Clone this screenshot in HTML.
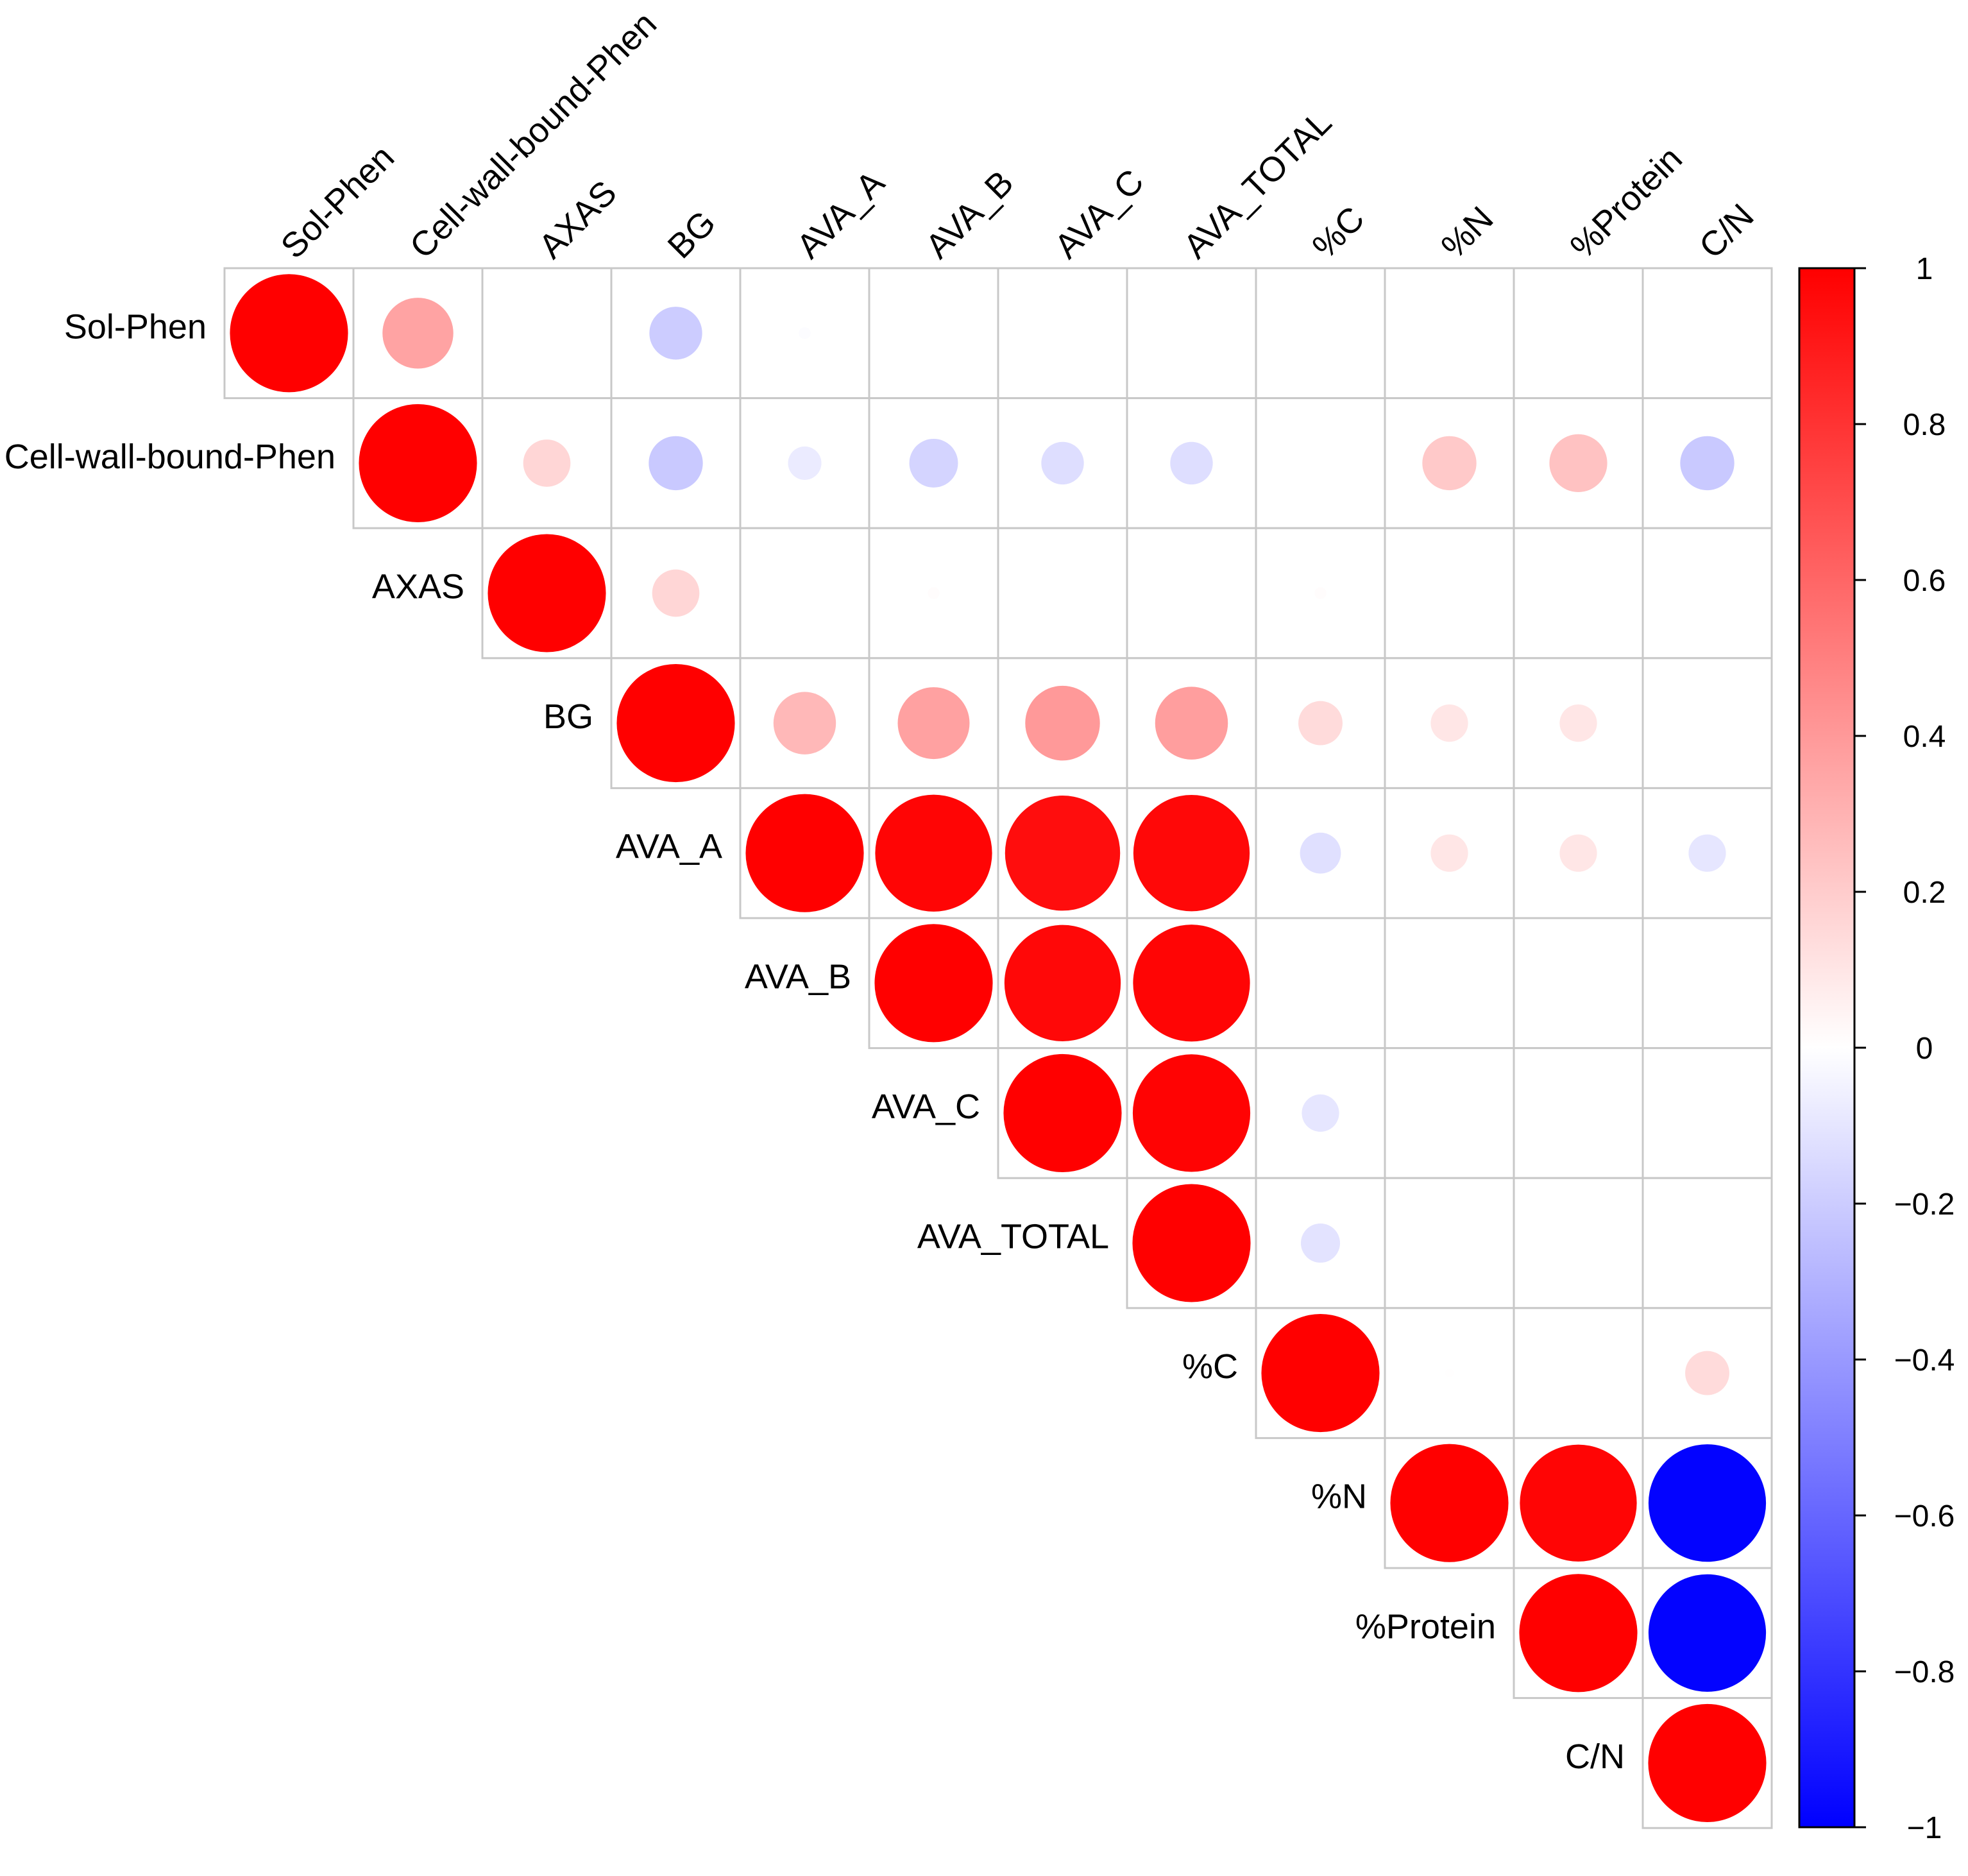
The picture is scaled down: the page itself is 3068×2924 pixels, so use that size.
<!DOCTYPE html>
<html><head><meta charset="utf-8"><style>
html,body{margin:0;padding:0;background:#fff;}
svg{display:block;font-family:"Liberation Sans",Arial,sans-serif;}
</style></head><body>
<svg id="chart" width="3068" height="2924" viewBox="0 0 3068 2924" xmlns="http://www.w3.org/2000/svg">
<defs><linearGradient id="cbgrad" x1="0" y1="0" x2="0" y2="1">
<stop offset="0" stop-color="#ff0000"/><stop offset="0.5" stop-color="#ffffff"/><stop offset="1" stop-color="#0000ff"/></linearGradient></defs>
<g id="grid"></g>
<g id="circles"></g>
<g id="rowlabels"></g>
<g id="collabels"></g>
<g id="colorbar"></g>
</svg>
<script>
const variables = ["Sol-Phen","Cell-wall-bound-Phen","AXAS","BG","AVA_A","AVA_B","AVA_C","AVA_TOTAL","%C","%N","%Protein","C/N"];
const row0 = [1,0.36,0,-0.2,-0.01,0,0,0,0,0,0,0];
const row1 = [0,1,0.16,-0.21,-0.08,-0.17,-0.13,-0.13,0,0.21,0.24,-0.21];
const row2 = [0,0,1,0.16,0,0.01,0,0,0.01,0,0,0];
const row3 = [0,0,0,1,0.28,0.37,0.4,0.38,0.14,0.1,0.1,0];
const row4 = [0,0,0,0,1,0.98,0.95,0.97,-0.12,0.1,0.1,-0.1];
const row5 = [0,0,0,0,0,1,0.97,0.98,0,0,0,0];
const row6 = [0,0,0,0,0,0,1,0.99,-0.1,0,0,0];
const row7 = [0,0,0,0,0,0,0,1,-0.11,0,0,0];
const row8 = [0,0,0,0,0,0,0,0,1,0.005,0,0.14];
const row9 = [0,0,0,0,0,0,0,0,0,1,0.98,-0.99];
const row10 = [0,0,0,0,0,0,0,0,0,0,1,-0.99];
const row11 = [0,0,0,0,0,0,0,0,0,0,0,1];
const tickValues = [1,0.8,0.6,0.4,0.2,0,-0.2,-0.4,-0.6,-0.8,-1];
const tickLabels = ["1","0.8","0.6","0.4","0.2","0","\u22120.2","\u22120.4","\u22120.6","\u22120.8","\u22121"];

const matrix = [row0,row1,row2,row3,row4,row5,row6,row7,row8,row9,row10,row11];
const NS = "http://www.w3.org/2000/svg";
const X0 = 350, Y0 = 418, CW = 201, CH = 202.6;
const n = variables.length;
function xPos(j){ return X0 + j*CW; }
function yPos(i){ return Y0 + i*CH; }
function color(v){
  const t = Math.min(1, Math.abs(v));
  const c = Math.round(255*(1-t));
  return v >= 0 ? `rgb(255,${c},${c})` : `rgb(${c},${c},255)`;
}
const CB_X = 2805, CB_W = 86, CB_TOP = 418, CB_BOT = 2848;
function cbY(v){ return CB_TOP + (1 - v)/2*(CB_BOT - CB_TOP); }
function mk(tag, attrs, parent){
  const e = document.createElementNS(NS, tag);
  for (const k in attrs) e.setAttribute(k, attrs[k]);
  parent.appendChild(e);
  return e;
}
const grid = document.getElementById('grid');
const circles = document.getElementById('circles');
const rowl = document.getElementById('rowlabels');
const coll = document.getElementById('collabels');
const cb = document.getElementById('colorbar');

for (let i=0;i<n;i++){
  for (let j=i;j<n;j++){
    const r = mk('rect',{x:xPos(j),y:yPos(i),width:CW,height:CH,fill:'#fff',stroke:'#c8c8c8','stroke-width':3},grid);
    
    
  }
}
for (let i=0;i<n;i++){
  for (let j=i;j<n;j++){
    const v = matrix[i][j];
    if (Math.abs(v) < 0.001) continue;
    const rad = 0.458*CW*Math.sqrt(Math.abs(v));
    const c = mk('circle',{cx:xPos(j)+CW/2,cy:yPos(i)+CH/2,r:rad,fill:color(v)},circles);
    
    
  }
}
for (let i=0;i<n;i++){
  const t = mk('text',{x:xPos(i)-28,y:yPos(i)+CH/2+8,'text-anchor':'end','font-size':54,fill:'#000'},rowl);
  t.textContent = variables[i];
  
  
}
for (let j=0;j<n;j++){
  const x = xPos(j)+CW/2 + 10, y = Y0 - 12;
  const t = mk('text',{x:x,y:y,'font-size':54,fill:'#000',transform:`rotate(-45 ${x} ${y})`},coll);
  t.textContent = variables[j];
  
  
}
const bar = mk('rect',{x:CB_X,y:CB_TOP,width:CB_W,height:CB_BOT-CB_TOP,fill:'url(#cbgrad)',stroke:'#000','stroke-width':3},cb);


for (let k=0;k<tickValues.length;k++){
  const y = cbY(tickValues[k]);
  const l = mk('line',{x1:CB_X+CB_W,x2:CB_X+CB_W+18,y1:y,y2:y,stroke:'#000','stroke-width':3},cb);
  
  
  const t = mk('text',{x:3000,y:y+17,'text-anchor':'middle','font-size':48,fill:'#000'},cb);
  t.textContent = tickLabels[k];
  
  
}
</script>
</body></html>
